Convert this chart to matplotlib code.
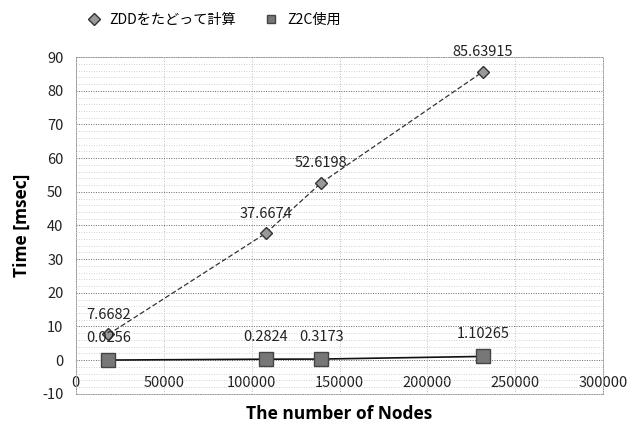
import matplotlib
matplotlib.use("Agg")
import matplotlib.pyplot as plt
from matplotlib.ticker import MultipleLocator

plt.rcParams['font.family'] = ['Noto Sans CJK JP', 'DejaVu Sans']
plt.rcParams['axes.unicode_minus'] = False

nodes = [18500, 108000, 139500, 231500]
zdd_time = [7.6682, 37.6674, 52.6198, 85.63915]
z2c_time = [0.0256, 0.2824, 0.3173, 1.10265]
zdd_labels = ["7.6682", "37.6674", "52.6198", "85.63915"]
z2c_labels = ["0.0256", "0.2824", "0.3173", "1.10265"]
series_names = ["ZDDをたどって計算", "Z2C使用"]
x_ticks = [0, 50000, 100000, 150000, 200000, 250000, 300000]
y_ticks = [-10, 0, 10, 20, 30, 40, 50, 60, 70, 80, 90]

fig = plt.figure(figsize=(6.27, 4.23), dpi=100)
ax = fig.add_axes([0.121, 0.069, 0.841, 0.796])

ax.set_xlim(0, 300000)
ax.set_ylim(-10, 90)
ax.set_xticks(x_ticks)
ax.set_xticklabels([str(v) for v in x_ticks])
ax.set_yticks(y_ticks)
ax.set_yticklabels([str(v) for v in y_ticks])
ax.yaxis.set_minor_locator(MultipleLocator(2))

ax.grid(True, which='major', axis='y', color='#666666', linestyle=(0, (1, 1.5)), linewidth=0.7)
ax.grid(True, which='minor', axis='y', color='#c4c4c4', linestyle=(0, (1, 2)), linewidth=0.6)
ax.grid(True, which='major', axis='x', color='#aaaaaa', linestyle=(0, (1, 2)), linewidth=0.6)
ax.set_axisbelow(True)

for s in ax.spines.values():
    s.set_visible(True)
    s.set_color('#999999')
    s.set_linestyle((0, (1, 1.5)))
    s.set_linewidth(0.7)

ax.tick_params(axis='both', which='both', length=0, labelsize=10.5, colors='#222222')
ax.tick_params(axis='x', pad=-13)
ax.tick_params(axis='y', pad=9)

ax.plot(nodes, zdd_time, color='#333333', linestyle=(0, (4, 2)), linewidth=0.9,
        marker='D', markersize=6, markerfacecolor='#999999', markeredgecolor='#333333',
        markeredgewidth=1.0, label=series_names[0], zorder=3)
ax.plot(nodes, z2c_time, color='#111111', linestyle='-', linewidth=1.2,
        marker='s', markersize=10, markerfacecolor='#777777', markeredgecolor='#444444',
        markeredgewidth=1.0, label=series_names[1], zorder=3)

for x, y, t in zip(nodes, zdd_time, zdd_labels):
    ax.annotate(t, (x, y), xytext=(0, 9), textcoords='offset points',
                ha='center', va='bottom', fontsize=10.5, color='#222222')
for x, y, t in zip(nodes, z2c_time, z2c_labels):
    ax.annotate(t, (x, y), xytext=(0, 11), textcoords='offset points',
                ha='center', va='bottom', fontsize=10.5, color='#222222')

ax.set_xlabel("The number of Nodes", fontsize=12.5, fontweight='bold', labelpad=8,
              family=['Open Sans', 'DejaVu Sans'])
ax.set_ylabel("Time [msec]", fontsize=12.5, fontweight='bold', labelpad=8,
              family=['Open Sans', 'DejaVu Sans'])

leg = fig.legend(loc='upper left', bbox_to_anchor=(0.118, 1.0), ncol=2, frameon=False,
                 fontsize=10.2, handlelength=1.0, columnspacing=2.0, handletextpad=0.6)
for h in leg.legend_handles:
    h.set_linestyle('none')
    h.set_markersize(6)

fig.savefig("out.png", dpi=100)
